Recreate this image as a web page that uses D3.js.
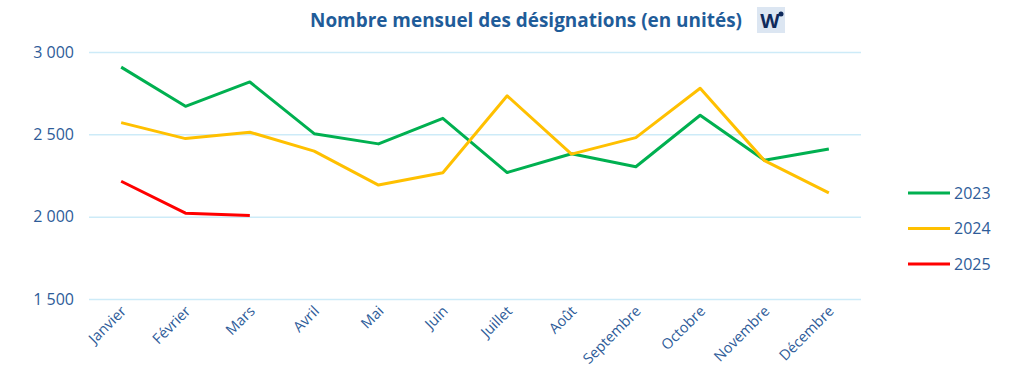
<!DOCTYPE html>
<html>
<head>
<meta charset="utf-8">
<script src="https://cdn.jsdelivr.net/npm/d3@7"></script>
<style>
  body { margin: 0; background: #fff; }
  text { font-family: "Open Sans", "DejaVu Sans", sans-serif; }
</style>
</head>
<body>
<script>
var months = ['Janvier', 'Février', 'Mars', 'Avril', 'Mai', 'Juin', 'Juillet', 'Août', 'Septembre', 'Octobre', 'Novembre', 'Décembre'];
var years = ['2023', '2024', '2025'];
var v2023 = [2908, 2670, 2818, 2504, 2442, 2597, 2268, 2382, 2303, 2616, 2343, 2411];
var v2024 = [2571, 2474, 2513, 2398, 2192, 2267, 2734, 2380, 2480, 2780, 2340, 2145];
var v2025 = [2215, 2021, 2007];
var yTicks = [1500, 2000, 2500, 3000];
var colors = ['#00B050', '#FFC000', '#FF0000'];

var series = [v2023, v2024, v2025];
var w = 1017, h = 380;
var margin = { top: 52, right: 156, bottom: 81, left: 89 };
var textColor = '#2E5C99';

var svg = d3.select('body').append('svg')
    .attr('width', w)
    .attr('height', h);

var xScale = d3.scaleBand()
    .domain(months)
    .range([margin.left, w - margin.right]);

var yScale = d3.scaleLinear()
    .domain([1500, 3000])
    .range([h - margin.bottom, margin.top]);

// grid lines
svg.append('g')
    .selectAll('line')
    .data(yTicks)
    .enter().append('line')
    .attr('x1', margin.left)
    .attr('x2', w - margin.right)
    .attr('y1', function (d) { return yScale(d) + 0.5; })
    .attr('y2', function (d) { return yScale(d) + 0.5; })
    .attr('stroke', '#CDEBF8')
    .attr('stroke-width', 1.5);

// y axis labels
svg.append('g')
    .selectAll('text')
    .data(yTicks)
    .enter().append('text')
    .attr('x', 74)
    .attr('y', function (d) { return yScale(d); })
    .attr('dy', '0.35em')
    .attr('text-anchor', 'end')
    .attr('fill', textColor)
    .style('font-size', '16px')
    .text(function (d) { return d3.format(',')(d).replace(',', ' '); });

// x axis labels
svg.append('g')
    .selectAll('text')
    .data(months)
    .enter().append('text')
    .attr('transform', function (d) {
        var x = xScale(d) + xScale.bandwidth() / 2 + 6;
        return 'translate(' + x + ',312) rotate(-45)';
    })
    .attr('text-anchor', 'end')
    .attr('fill', textColor)
    .style('font-size', '14.5px')
    .text(function (d) { return d; });

// lines
var line = d3.line()
    .x(function (d, i) { return xScale(months[i]) + xScale.bandwidth() / 2; })
    .y(function (d) { return yScale(d); });

svg.append('g')
    .selectAll('path')
    .data(series)
    .enter().append('path')
    .attr('d', line)
    .attr('fill', 'none')
    .attr('stroke', function (d, i) { return colors[i]; })
    .attr('stroke-width', 3)
    .attr('stroke-linejoin', 'round');

// legend
var legend = svg.append('g')
    .selectAll('g')
    .data(years)
    .enter().append('g')
    .attr('transform', function (d, i) { return 'translate(908,' + (193 + i * 35.5) + ')'; });

legend.append('line')
    .attr('x1', 0)
    .attr('x2', 42)
    .attr('stroke', function (d, i) { return colors[i]; })
    .attr('stroke-width', 3);

legend.append('text')
    .attr('x', 46)
    .attr('dy', '0.35em')
    .attr('fill', textColor)
    .style('font-size', '16px')
    .text(function (d) { return d; });

// title
svg.append('text')
    .attr('x', 310)
    .attr('y', 27)
    .attr('fill', '#1F5C99')
    .style('font-size', '19px')
    .style('font-weight', 'bold')
    .attr('textLength', 432)
    .attr('lengthAdjust', 'spacingAndGlyphs')
    .text('Nombre mensuel des désignations (en unités)');

// little logo next to the title
var logo = svg.append('g').attr('transform', 'translate(757,7)');
logo.append('rect')
    .attr('width', 28)
    .attr('height', 26)
    .attr('fill', '#DCE6F2');
logo.append('text')
    .attr('x', 13)
    .attr('y', 21)
    .attr('text-anchor', 'middle')
    .attr('fill', '#0F2A5C')
    .style('font-size', '20px')
    .style('font-weight', 'bold')
    .text('W');
logo.append('circle')
    .attr('cx', 24)
    .attr('cy', 7)
    .attr('r', 2.5)
    .attr('fill', '#0F2A5C');
</script>
</body>
</html>
